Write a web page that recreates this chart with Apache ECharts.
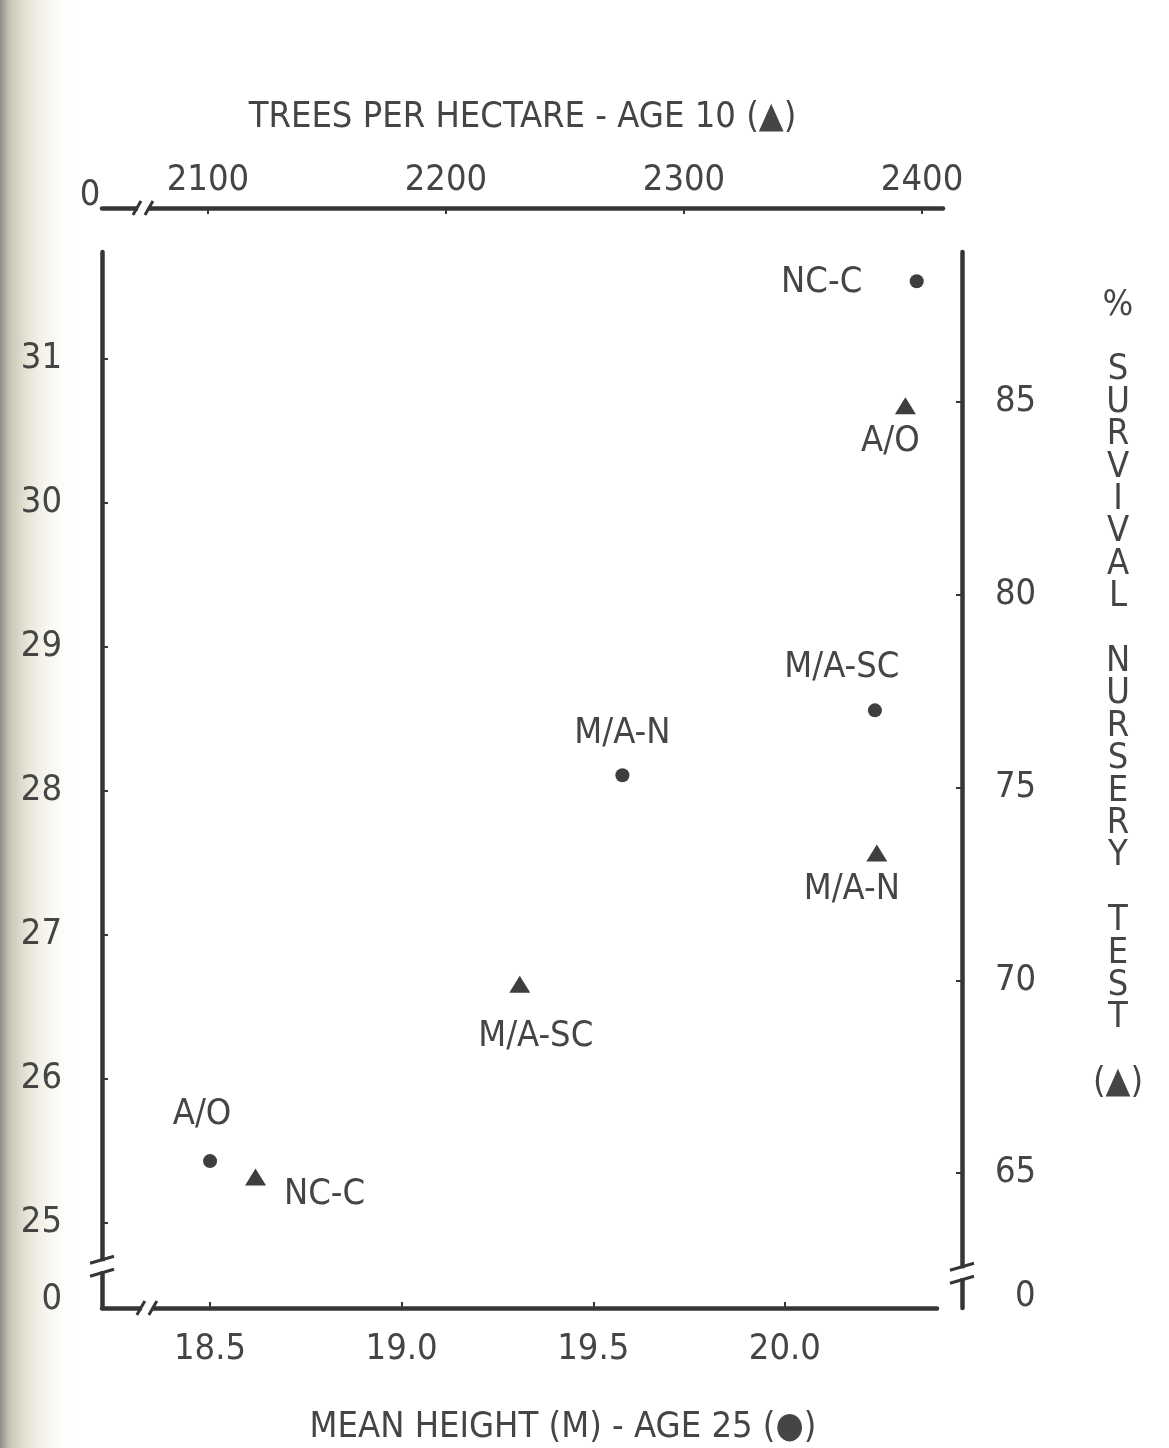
<!DOCTYPE html>
<html>
<head>
<meta charset="utf-8">
<script src="https://cdn.jsdelivr.net/npm/echarts@6/dist/echarts.min.js"></script>
<style>
  html, body { margin: 0; padding: 0; background: #fff; }
  #main { width: 1169px; height: 1448px; }
</style>
</head>
<body>
<div id="main"></div>
<script>
  // circles: mean height at age 25 vs left axis
  var circleNames = ['NC-C', 'M/A-SC', 'M/A-N', 'A/O'];
  var meanHeight25 = [20.344, 20.235, 19.576, 18.5];
  var leftValues = [31.54, 28.56, 28.11, 25.43];

  // triangles: trees per hectare at age 10 vs % survival
  var triangleNames = ['A/O', 'M/A-N', 'M/A-SC', 'NC-C'];
  var treesPerHa10 = [2393, 2381, 2231, 2120];
  var survivalPct = [84.9, 73.3, 69.9, 64.9];

  // tick labels
  var heightTicks = [18.5, 19.0, 19.5, 20.0];
  var treesTicks = [2100, 2200, 2300, 2400];
  var leftTicks = [25, 26, 27, 28, 29, 30, 31];
  var survivalTicks = [65, 70, 75, 80, 85];
  var breakLabel = '0';

  var FONT = "'DejaVu Sans Condensed', 'Liberation Sans Narrow', 'DejaVu Sans', sans-serif";
  var INK = '#454545';
  var LINE = '#363636';

  // where each label sits relative to its point
  var circleLabelOffset = {'NC-C': [-95, 1], 'M/A-SC': [-33, -43], 'M/A-N': [0, -42], 'A/O': [-8, -46]};
  var triLabelOffset = {'A/O': [-15, 36], 'M/A-N': [-25, 37], 'M/A-SC': [16, 52], 'NC-C': [69, 18]};

  var circleData = circleNames.map(function (n, i) {
    return {name: n, value: [meanHeight25[i], leftValues[i]], label: {offset: circleLabelOffset[n]}};
  });
  var triData = triangleNames.map(function (n, i) {
    return {name: n, value: [treesPerHa10[i], survivalPct[i]], label: {offset: triLabelOffset[n]}};
  });

  var chart = echarts.init(document.getElementById('main'));

  var axisLineStyle = {show: true, lineStyle: {color: LINE, width: 4.5}};
  var tickStyle = {show: true, inside: true, length: 6, lineStyle: {color: LINE, width: 2}};
  var labelStyle = {color: INK, fontSize: 36, fontFamily: FONT};
  var pointLabel = {show: true, position: 'inside', formatter: '{b}', color: INK, opacity: 1, fontSize: 36, fontFamily: FONT};

  var option = {
    backgroundColor: '#fff',
    textStyle: {fontFamily: FONT},
    animation: false,
    grid: [
      {left: 102, right: 232, top: 252, bottom: 140, outerBoundsMode: 'none'},
      {left: 102, right: 226, top: 252, bottom: 140, outerBoundsMode: 'none'}
    ],
    xAxis: [
      {
        type: 'value', gridIndex: 0, position: 'bottom',
        min: 18.218, max: 20.397,
        axisLine: axisLineStyle, axisTick: Object.assign({customValues: heightTicks}, tickStyle),
        splitLine: {show: false},
        axisLabel: Object.assign({customValues: heightTicks, margin: 24, formatter: function (v) { return v.toFixed(1); }}, labelStyle),
        name: 'MEAN HEIGHT (M) - AGE 25 (\u25CF)', nameLocation: 'middle', nameGap: 102,
        nameTextStyle: {color: INK, fontSize: 36, fontFamily: FONT, padding: [0, 0, 0, 87]}
      },
      {
        type: 'value', gridIndex: 1, position: 'top', offset: 44,
        min: 2055.5, max: 2408.8,
        axisLine: axisLineStyle, axisTick: Object.assign({customValues: treesTicks}, tickStyle),
        splitLine: {show: false},
        axisLabel: Object.assign({customValues: treesTicks, margin: 9, formatter: function (v) { return String(v); }}, labelStyle),
        name: 'TREES PER HECTARE - AGE 10 (\u25B2)', nameLocation: 'middle', nameGap: 72,
        nameTextStyle: {color: INK, fontSize: 36, fontFamily: FONT}
      }
    ],
    yAxis: [
      {
        type: 'value', gridIndex: 0, position: 'left',
        min: 24.41, max: 31.743,
        axisLine: axisLineStyle, axisTick: Object.assign({customValues: leftTicks}, tickStyle),
        splitLine: {show: false},
        axisLabel: Object.assign({
          customValues: [24.47].concat(leftTicks), margin: 40,
          formatter: function (v) { return v < leftTicks[0] ? breakLabel : String(v); }
        }, labelStyle)
      },
      {
        type: 'value', gridIndex: 1, position: 'right', offset: 19,
        min: 61.5, max: 88.89,
        axisLine: axisLineStyle, axisTick: Object.assign({customValues: survivalTicks}, tickStyle),
        splitLine: {show: false},
        axisLabel: Object.assign({
          customValues: [61.79].concat(survivalTicks), margin: 33,
          formatter: function (v) { return v < survivalTicks[0] ? '{z|' + breakLabel + '}' : String(v); },
          rich: {z: {color: INK, fontSize: 36, fontFamily: FONT, padding: [0, 0, 0, 20]}}
        }, labelStyle)
      }
    ],
    series: [
      {
        name: 'Mean height', type: 'scatter', xAxisIndex: 0, yAxisIndex: 0,
        symbol: 'circle', symbolSize: 14,
        itemStyle: {color: '#3e3e3e', opacity: 1},
        label: pointLabel,
        data: circleData
      },
      {
        name: 'Trees per hectare', type: 'scatter', xAxisIndex: 1, yAxisIndex: 1,
        symbol: 'triangle', symbolSize: [21, 17],
        itemStyle: {color: '#3e3e3e', opacity: 1},
        label: pointLabel,
        data: triData
      }
    ]
  };
  chart.setOption(option);

  // axis break marks and extra text
  function vBreak(x, y) {
    return [
      {type: 'rect', shape: {x: x - 4, y: y - 5, width: 8, height: 10}, style: {fill: '#fff'}, z: 50},
      {type: 'line', shape: {x1: x - 12, y1: y - 3, x2: x + 12, y2: y - 10}, style: {stroke: LINE, lineWidth: 3}, z: 51},
      {type: 'line', shape: {x1: x - 12, y1: y + 10, x2: x + 12, y2: y + 3}, style: {stroke: LINE, lineWidth: 3}, z: 51}
    ];
  }
  function hBreak(x, y) {
    return [
      {type: 'rect', shape: {x: x - 5, y: y - 4, width: 10, height: 8}, style: {fill: '#fff'}, z: 50},
      {type: 'line', shape: {x1: x - 10, y1: y + 7, x2: x - 2, y2: y - 7}, style: {stroke: LINE, lineWidth: 3}, z: 51},
      {type: 'line', shape: {x1: x + 2, y1: y + 7, x2: x + 10, y2: y - 7}, style: {stroke: LINE, lineWidth: 3}, z: 51}
    ];
  }

  var leftX = chart.convertToPixel({xAxisIndex: 0}, 18.218);
  var botY = chart.convertToPixel({yAxisIndex: 0}, 24.41);
  var leftBreakY = chart.convertToPixel({yAxisIndex: 0}, 24.70);
  var rightBreakY = chart.convertToPixel({yAxisIndex: 1}, 62.4);
  var botBreakX = chart.convertToPixel({xAxisIndex: 0}, 18.335);
  var topBreakX = chart.convertToPixel({xAxisIndex: 1}, 2072.7);
  var topStartX = chart.convertToPixel({xAxisIndex: 1}, 2055.5);
  var topY = 252 - 44;
  var rightX = 1169 - 226 + 19;

  var verticalTitle = ['%', '', 'S', 'U', 'R', 'V', 'I', 'V', 'A', 'L', '', 'N', 'U', 'R', 'S', 'E', 'R', 'Y', '', 'T', 'E', 'S', 'T', '', '(\u25B2)'];

  var graphics = [
    {
      type: 'rect', shape: {x: 0, y: 0, width: 80, height: 1448}, z: -10, silent: true,
      style: {fill: new echarts.graphic.LinearGradient(0, 0, 1, 0, [
        {offset: 0, color: '#8e8d88'}, {offset: 0.12, color: '#c9c5b6'},
        {offset: 0.35, color: '#e9e6d8'}, {offset: 1, color: 'rgba(255,255,255,0)'}
      ])}
    },
    {
      type: 'text', x: topStartX - 12, y: topY - 12, z: 52,
      style: {text: breakLabel, fill: INK, fontSize: 36, fontFamily: FONT, align: 'center', verticalAlign: 'middle'}
    },
    {
      type: 'text', x: 1118, y: 289, z: 52,
      style: {text: verticalTitle.join('\n'), fill: INK, fontSize: 36, lineHeight: 32.4, fontFamily: FONT, align: 'center', verticalAlign: 'top'}
    }
  ];
  graphics = graphics
    .concat(vBreak(leftX, leftBreakY))
    .concat(vBreak(rightX, rightBreakY))
    .concat(hBreak(botBreakX, botY))
    .concat(hBreak(topBreakX, topY));

  chart.setOption({graphic: graphics});
</script>
</body>
</html>
